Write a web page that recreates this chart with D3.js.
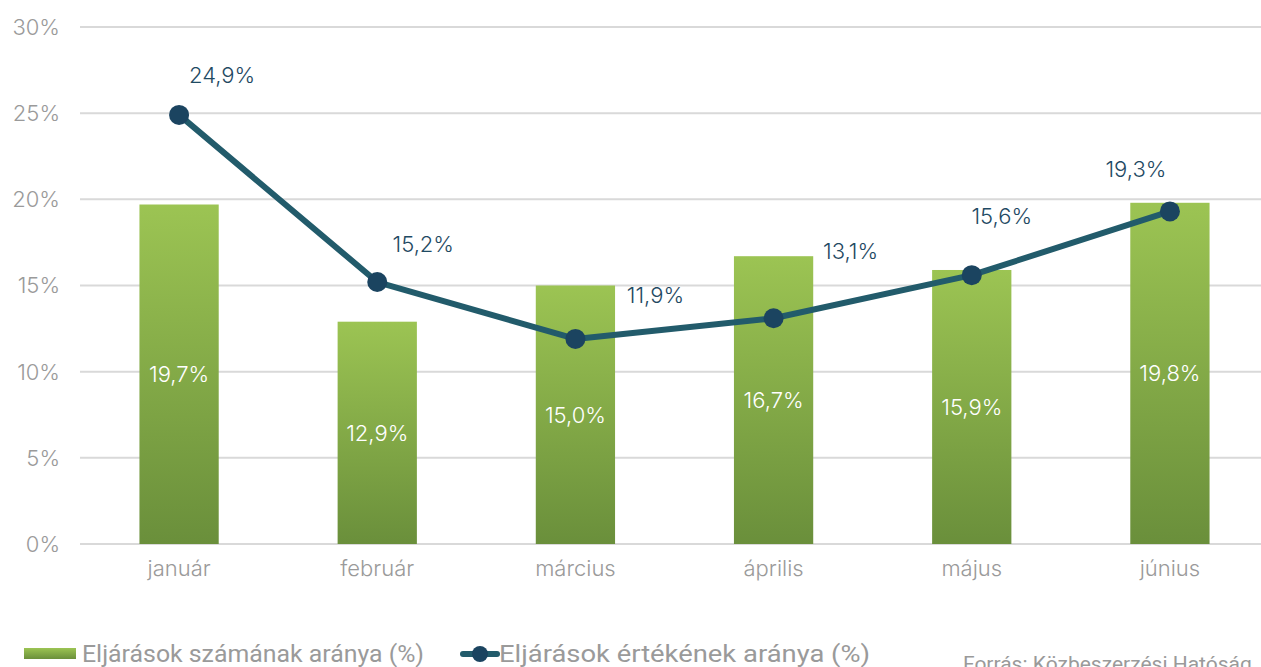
<!DOCTYPE html>
<html>
<head>
<meta charset="utf-8">
<script src="https://cdn.jsdelivr.net/npm/d3@7"></script>
<style>
  body { margin: 0; background: #fff; }
  svg { display: block; font-family: Inter, "Noto Sans", sans-serif; font-weight: 300; }
</style>
</head>
<body>
<svg id="chart" width="1261" height="667"></svg>
<script>
// data
var months = ['január', 'február', 'március', 'április', 'május', 'június'];
var countShare = [19.7, 12.9, 15.0, 16.7, 15.9, 19.8];
var valueShare = [24.9, 15.2, 11.9, 13.1, 15.6, 19.3];
var yTicks = [0, 5, 10, 15, 20, 25, 30];
var seriesNames = ['Eljárások számának aránya (%)', 'Eljárások értékének aránya (%)'];
var sourceText = 'Forrás: Közbeszerzési Hatóság';

// label nudges for the line values (layout, not data)
var lineLabelDx = [43, 46, 80, 77, 30, -34];
var lineLabelDy = [-40, -38, -44, -67, -59, -42];

var svg = d3.select('#chart');
var W = 1261, H = 667;
var plotLeft = 80, plotTop = 27, plotBottom = 544;

var x = d3.scaleBand().domain(months).range([plotLeft, 1269]).paddingInner(0.6).paddingOuter(0.3);
var y = d3.scaleLinear().domain([0, 30]).range([plotBottom, plotTop]);

var fmt = function(v){ return d3.format('.1f')(v).replace('.', ',') + '%'; };

var defs = svg.append('defs');
var grad = defs.append('linearGradient').attr('id', 'barGrad')
	.attr('x1', 0).attr('y1', 0).attr('x2', 0).attr('y2', 1);
grad.append('stop').attr('offset', '0%').attr('stop-color', '#9cc453');
grad.append('stop').attr('offset', '100%').attr('stop-color', '#6a8f3b');

// gridlines
svg.append('g').selectAll('line').data(yTicks).enter().append('line')
	.attr('x1', plotLeft).attr('x2', W)
	.attr('y1', function(d){ return y(d); })
	.attr('y2', function(d){ return y(d); })
	.attr('stroke', '#d9d9d9').attr('stroke-width', 2);

// y axis labels
svg.append('g').selectAll('text').data(yTicks).enter().append('text')
	.attr('x', 60).attr('y', function(d){ return y(d); })
	.attr('dy', '0.36em')
	.attr('text-anchor', 'end')
	.attr('fill', '#9a9a9a')
	.style('font-size', '22px')
	.text(function(d){ return d + '%'; });

// x axis labels
svg.append('g').selectAll('text').data(months).enter().append('text')
	.attr('x', function(d){ return x(d) + x.bandwidth()/2; })
	.attr('y', 568).attr('dy', '0.36em')
	.attr('text-anchor', 'middle')
	.attr('fill', '#9a9a9a')
	.style('font-size', '22px')
	.text(function(d){ return d; });

// bars
var bars = svg.append('g').selectAll('g').data(countShare).enter().append('g');
bars.append('rect')
	.attr('x', function(d, i){ return x(months[i]); })
	.attr('width', x.bandwidth())
	.attr('y', function(d){ return y(d); })
	.attr('height', function(d){ return y(0) - y(d); })
	.attr('fill', 'url(#barGrad)');
bars.append('text')
	.attr('x', function(d, i){ return x(months[i]) + x.bandwidth()/2; })
	.attr('y', function(d){ return y(d/2); })
	.attr('dy', '0.36em')
	.attr('text-anchor', 'middle')
	.attr('fill', '#fff')
	.style('font-size', '22px')
	.text(fmt);

// line
var cx = function(i){ return x(months[i]) + x.bandwidth()/2; };
var line = d3.line()
	.x(function(d, i){ return cx(i); })
	.y(function(d){ return y(d); });
svg.append('path').datum(valueShare)
	.attr('d', line)
	.attr('fill', 'none')
	.attr('stroke', '#225b6b')
	.attr('stroke-width', 6)
	.attr('stroke-linejoin', 'round');
svg.append('g').selectAll('circle').data(valueShare).enter().append('circle')
	.attr('cx', function(d, i){ return cx(i); })
	.attr('cy', function(d){ return y(d); })
	.attr('r', 10)
	.attr('fill', '#1b4460');
svg.append('g').selectAll('text').data(valueShare).enter().append('text')
	.attr('x', function(d, i){ return cx(i) + lineLabelDx[i]; })
	.attr('y', function(d, i){ return y(d) + lineLabelDy[i]; })
	.attr('dy', '0.36em')
	.attr('text-anchor', 'middle')
	.attr('fill', '#1f4a63')
	.style('font-size', '22px')
	.text(fmt);

// legend
var lg = svg.append('g');
lg.append('rect').attr('x', 24).attr('y', 648).attr('width', 52).attr('height', 11).attr('fill', 'url(#barGrad)');
lg.append('text').attr('x', 82).attr('y', 662)
	.attr('fill', '#9a9a9a').style('font-size', '24px').style('font-family', 'Roboto').style('font-weight', 400)
	.attr('textLength', 342).attr('lengthAdjust', 'spacingAndGlyphs')
	.text(seriesNames[0]);
lg.append('line').attr('x1', 463).attr('x2', 497).attr('y1', 654).attr('y2', 654)
	.attr('stroke', '#225b6b').attr('stroke-width', 6).attr('stroke-linecap', 'round');
lg.append('circle').attr('cx', 480).attr('cy', 654).attr('r', 8).attr('fill', '#1b4460');
lg.append('text').attr('x', 499).attr('y', 662)
	.attr('fill', '#9a9a9a').style('font-size', '24px').style('font-family', 'Roboto').style('font-weight', 400)
	.attr('textLength', 371).attr('lengthAdjust', 'spacingAndGlyphs')
	.text(seriesNames[1]);

svg.append('text').attr('x', 963).attr('y', 671)
	.attr('fill', '#9a9a9a').style('font-size', '21px').style('font-family', 'Roboto').style('font-weight', 400)
	.text(sourceText);
</script>
</body>
</html>
